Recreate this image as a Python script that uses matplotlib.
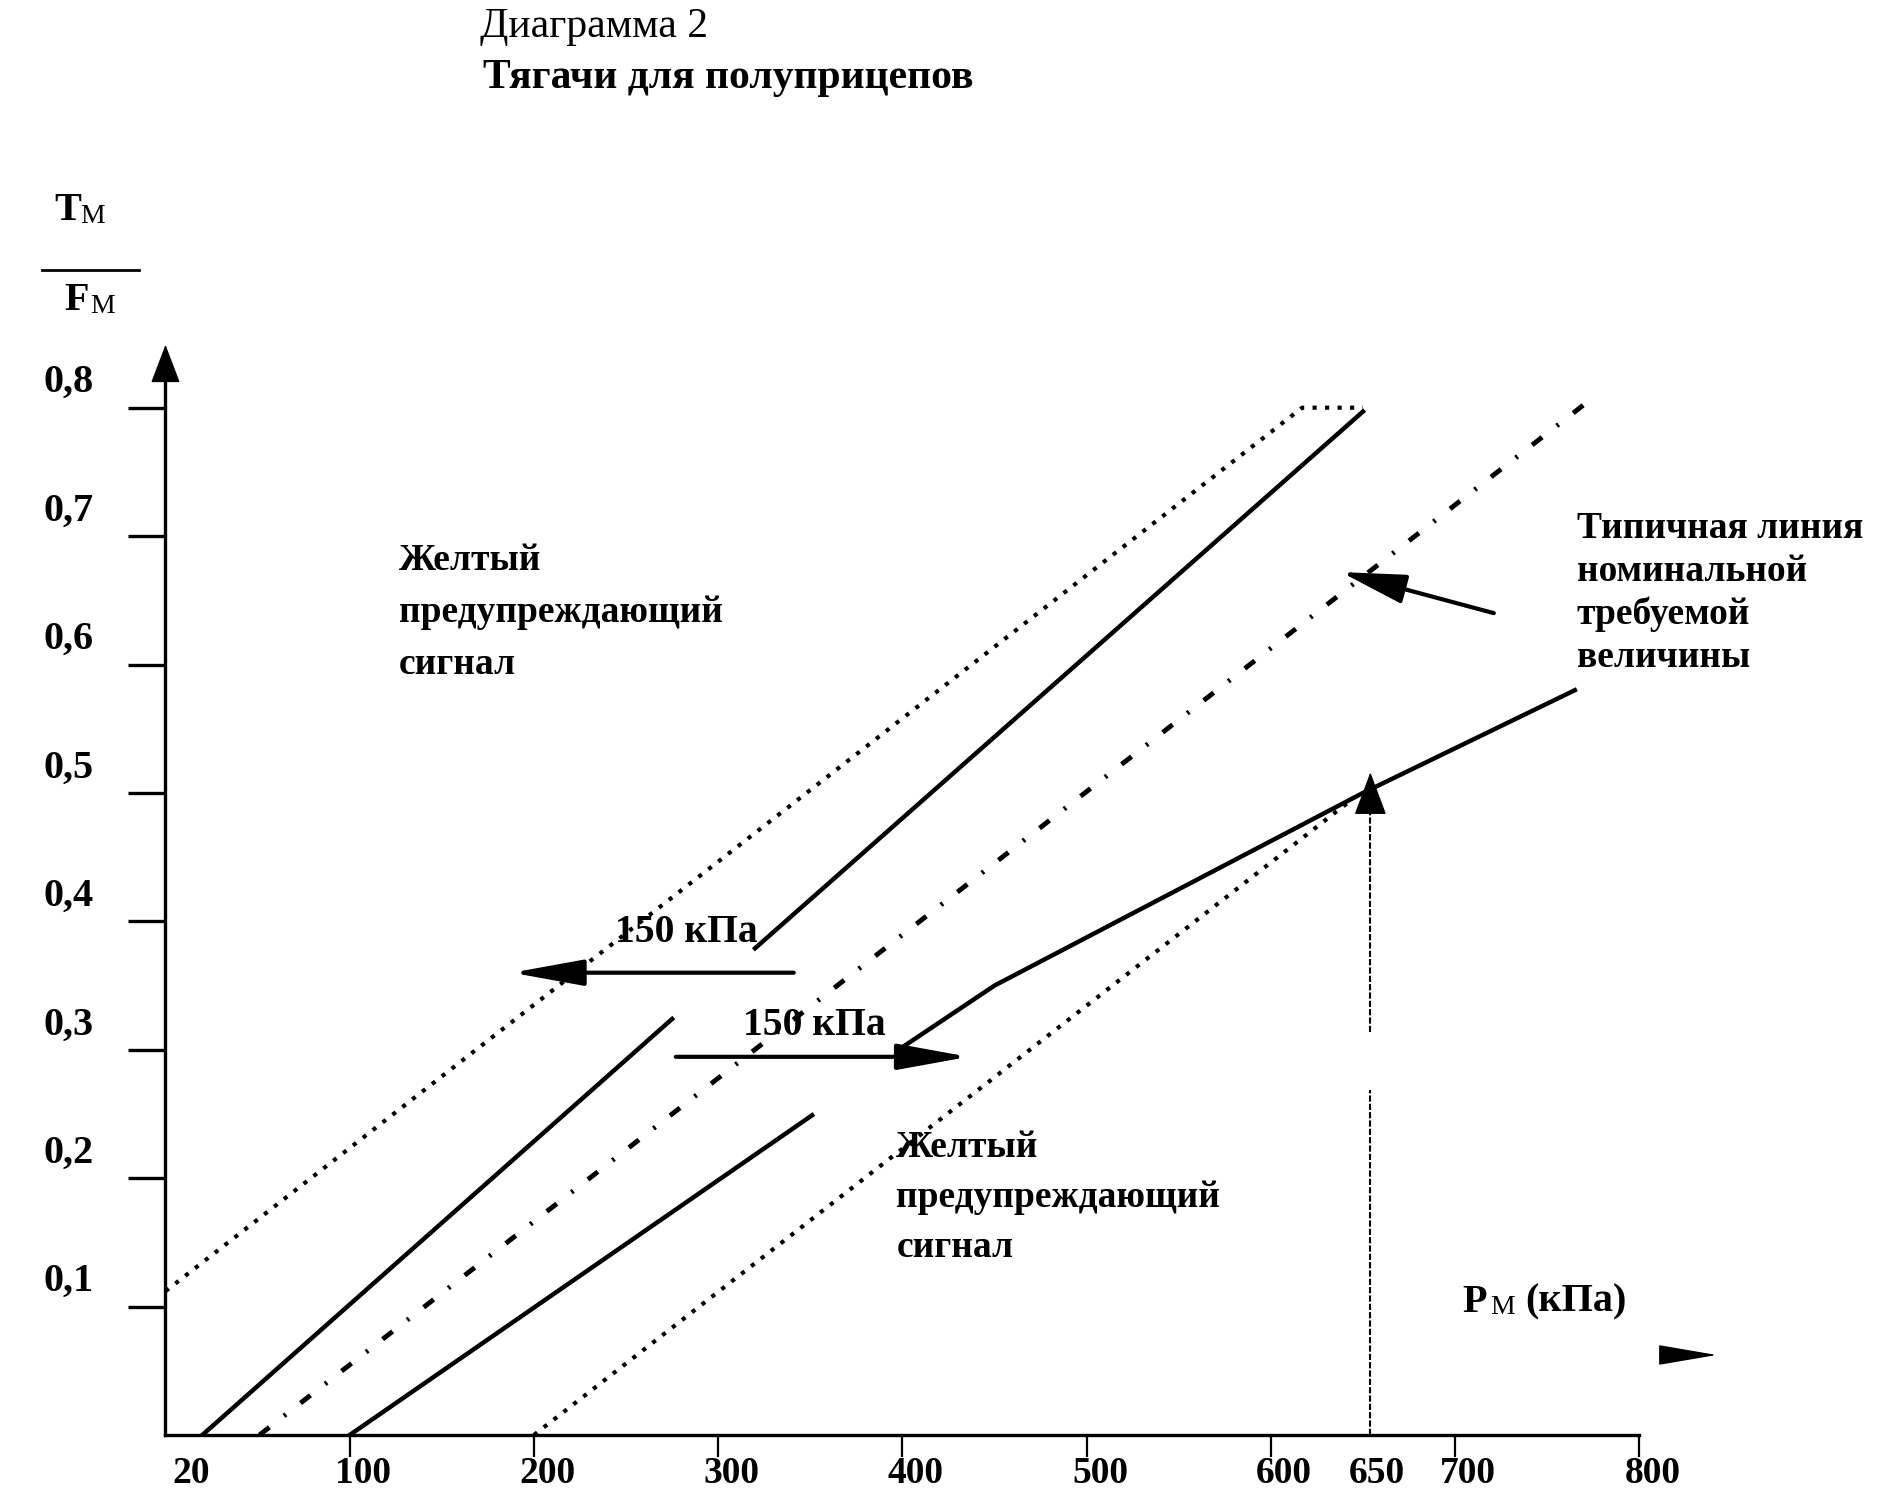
import matplotlib.pyplot as plt

plt.rcParams['font.family'] = ['Liberation Serif', 'DejaVu Serif']

# axis values
y_ticks = [0.1, 0.2, 0.3, 0.4, 0.5, 0.6, 0.7, 0.8]
y_tick_labels = ['0,1', '0,2', '0,3', '0,4', '0,5', '0,6', '0,7', '0,8']
x_ticks = [100, 200, 300, 400, 500, 600, 700, 800]
x_label_vals = [12, 100, 200, 300, 400, 500, 600, 650, 700, 800]
x_label_text = ['20', '100', '200', '300', '400', '500', '600', '650', '700', '800']

# upper dotted limit (ends with a flat piece at 0.8)
dot_up_x = [0, 617, 650]
dot_up_y = [0.112, 0.8, 0.8]
# lower dotted limit
dot_low_x = [200, 645]
dot_low_y = [0.0, 0.496]
# typical nominal line (dash-dot)
nom_x = [51, 775]
nom_y = [0.0, 0.808]
# upper solid line, broken in two parts
up_a_x = [20, 275]
up_a_y = [0.0, 0.324]
up_b_x = [320, 650]
up_b_y = [0.379, 0.797]
# lower solid line, broken in two parts
low_a_x = [100, 351]
low_a_y = [0.0, 0.249]
low_b_x = [400, 450, 650, 765]
low_b_y = [0.302, 0.35, 0.50, 0.58]
# vertical marker at 650 kPa (drawn where the original puts it)
v_x = 654
v_parts = [(0.0, 0.269), (0.314, 0.485)]
v_head = (0.485, 0.516)

# 150 kPa shift arrows
shift_left = ((341, 0.36), (188, 0.36))
shift_right = ((277, 0.2945), (436, 0.2945))
nom_arrow = ((721, 0.640), (638, 0.672))

fig = plt.figure(figsize=(18.94, 15.12), dpi=100)
ax = fig.add_axes([0.08738, 0.05093, 0.8268, 0.7219])
ax.set_xlim(0, 850)
ax.set_ylim(0, 0.85)

for s in ['top', 'right']:
    ax.spines[s].set_visible(False)
ax.spines['left'].set_bounds(0, 0.819)
ax.spines['bottom'].set_bounds(0, 800)
ax.spines['left'].set_linewidth(2.4)
ax.spines['bottom'].set_linewidth(2.4)

ax.set_yticks(y_ticks)
ax.set_xticks(x_ticks)
ax.tick_params(axis='y', direction='out', length=26.6, width=2.4, labelleft=False)
ax.tick_params(axis='x', direction='out', length=15.6, width=1.6, labelbottom=False)

for v, t in zip(y_ticks, y_tick_labels):
    ax.text(-39, v + 0.012, t, ha='right', va='baseline', fontsize=29, fontweight='bold')
for v, t in zip(x_label_vals, x_label_text):
    ax.text(v - 8, -0.0374, t, ha='left', va='baseline', fontsize=27, fontweight='bold',
            clip_on=False)

# lines
ax.plot(dot_up_x, dot_up_y, color='black', lw=3, linestyle=(0, (1, 2)), clip_on=False)
ax.plot(dot_low_x, dot_low_y, color='black', lw=3, linestyle=(0, (1, 2)))
ax.plot(nom_x, nom_y, color='black', lw=3.5, linestyle=(0, (2.6, 3.8, 0.5, 3.8)),
        clip_on=False)
ax.plot(up_a_x, up_a_y, color='black', lw=3.2)
ax.plot(up_b_x, up_b_y, color='black', lw=3.2)
ax.plot(low_a_x, low_a_y, color='black', lw=3.2)
ax.plot(low_b_x, low_b_y, color='black', lw=3.2)
for y0, y1 in v_parts:
    ax.plot([v_x, v_x], [y0, y1], color='black', lw=1.5, linestyle=(0, (3, 1)))

def arrow(start, end, hl, hw, lw=3):
    ax.annotate('', xy=end, xytext=start,
                arrowprops=dict(arrowstyle='-|>,head_length=%s,head_width=%s' % (hl, hw),
                                lw=lw, color='black', shrinkA=0, shrinkB=0,
                                mutation_scale=10),
                annotation_clip=False)

arrow(shift_left[0], shift_left[1], 4.4, 0.8)
arrow(shift_right[0], shift_right[1], 4.4, 0.8)
arrow(nom_arrow[0], nom_arrow[1], 4.0, 0.9)
arrow((v_x, v_head[0]), (v_x, v_head[1]), 2.8, 1.05, lw=1)
# axis arrow heads
arrow((0, 0.815), (0, 0.849), 2.5, 0.95, lw=1)
arrow((812, 0.0623), (842, 0.0623), 3.8, 0.65, lw=1)

# text blocks
bold = dict(fontsize=27, fontweight='bold', va='baseline')
warn = ['Желтый', 'предупреждающий', 'сигнал']
for i, t in enumerate(warn):
    ax.text(126.5, 0.6737 - i * 0.0405, t, **bold)
    ax.text(396.7, 0.2163 - i * 0.0387, t, **bold)
typical = ['Типичная линия', 'номинальной', 'требуемой', 'величины']
for i, t in enumerate(typical):
    ax.text(766, 0.6985 - i * 0.0335, t, clip_on=False, **bold)

ax.text(243.9, 0.3842, '150 кПа', fontsize=28.5, fontweight='bold', va='baseline')
ax.text(313.7, 0.3115, '150 кПа', fontsize=28.5, fontweight='bold', va='baseline')

# axis names
ax.annotate('P', (703.7, 0.096), fontsize=29, fontweight='bold', va='baseline')
ax.annotate('М', (703.7, 0.096), xytext=(20.4, -2), textcoords='offset points',
            fontsize=20, va='baseline')
ax.annotate('(кПа)', (703.7, 0.096), xytext=(45.5, 0), textcoords='offset points',
            fontsize=29, fontweight='bold', va='baseline')

ax.annotate('T', (-60.5, 0.9463), fontsize=29, fontweight='bold', va='baseline',
            annotation_clip=False)
ax.annotate('М', (-60.5, 0.9463), xytext=(19, -2), textcoords='offset points',
            fontsize=20, va='baseline', annotation_clip=False)
ax.plot([-67.3, -14.4], [0.9073, 0.9073], color='black', lw=2, clip_on=False)
ax.annotate('F', (-55, 0.876), fontsize=29, fontweight='bold', va='baseline',
            annotation_clip=False)
ax.annotate('М', (-55, 0.876), xytext=(19, -2), textcoords='offset points',
            fontsize=20, va='baseline', annotation_clip=False)

fig.text(480 / 1894, 1 - 37 / 1512, 'Диаграмма 2', fontsize=30, va='baseline')
fig.text(483 / 1894, 1 - 88 / 1512, 'Тягачи для полуприцепов', fontsize=30,
         fontweight='bold', va='baseline')

fig.savefig('out.png', dpi=100)
